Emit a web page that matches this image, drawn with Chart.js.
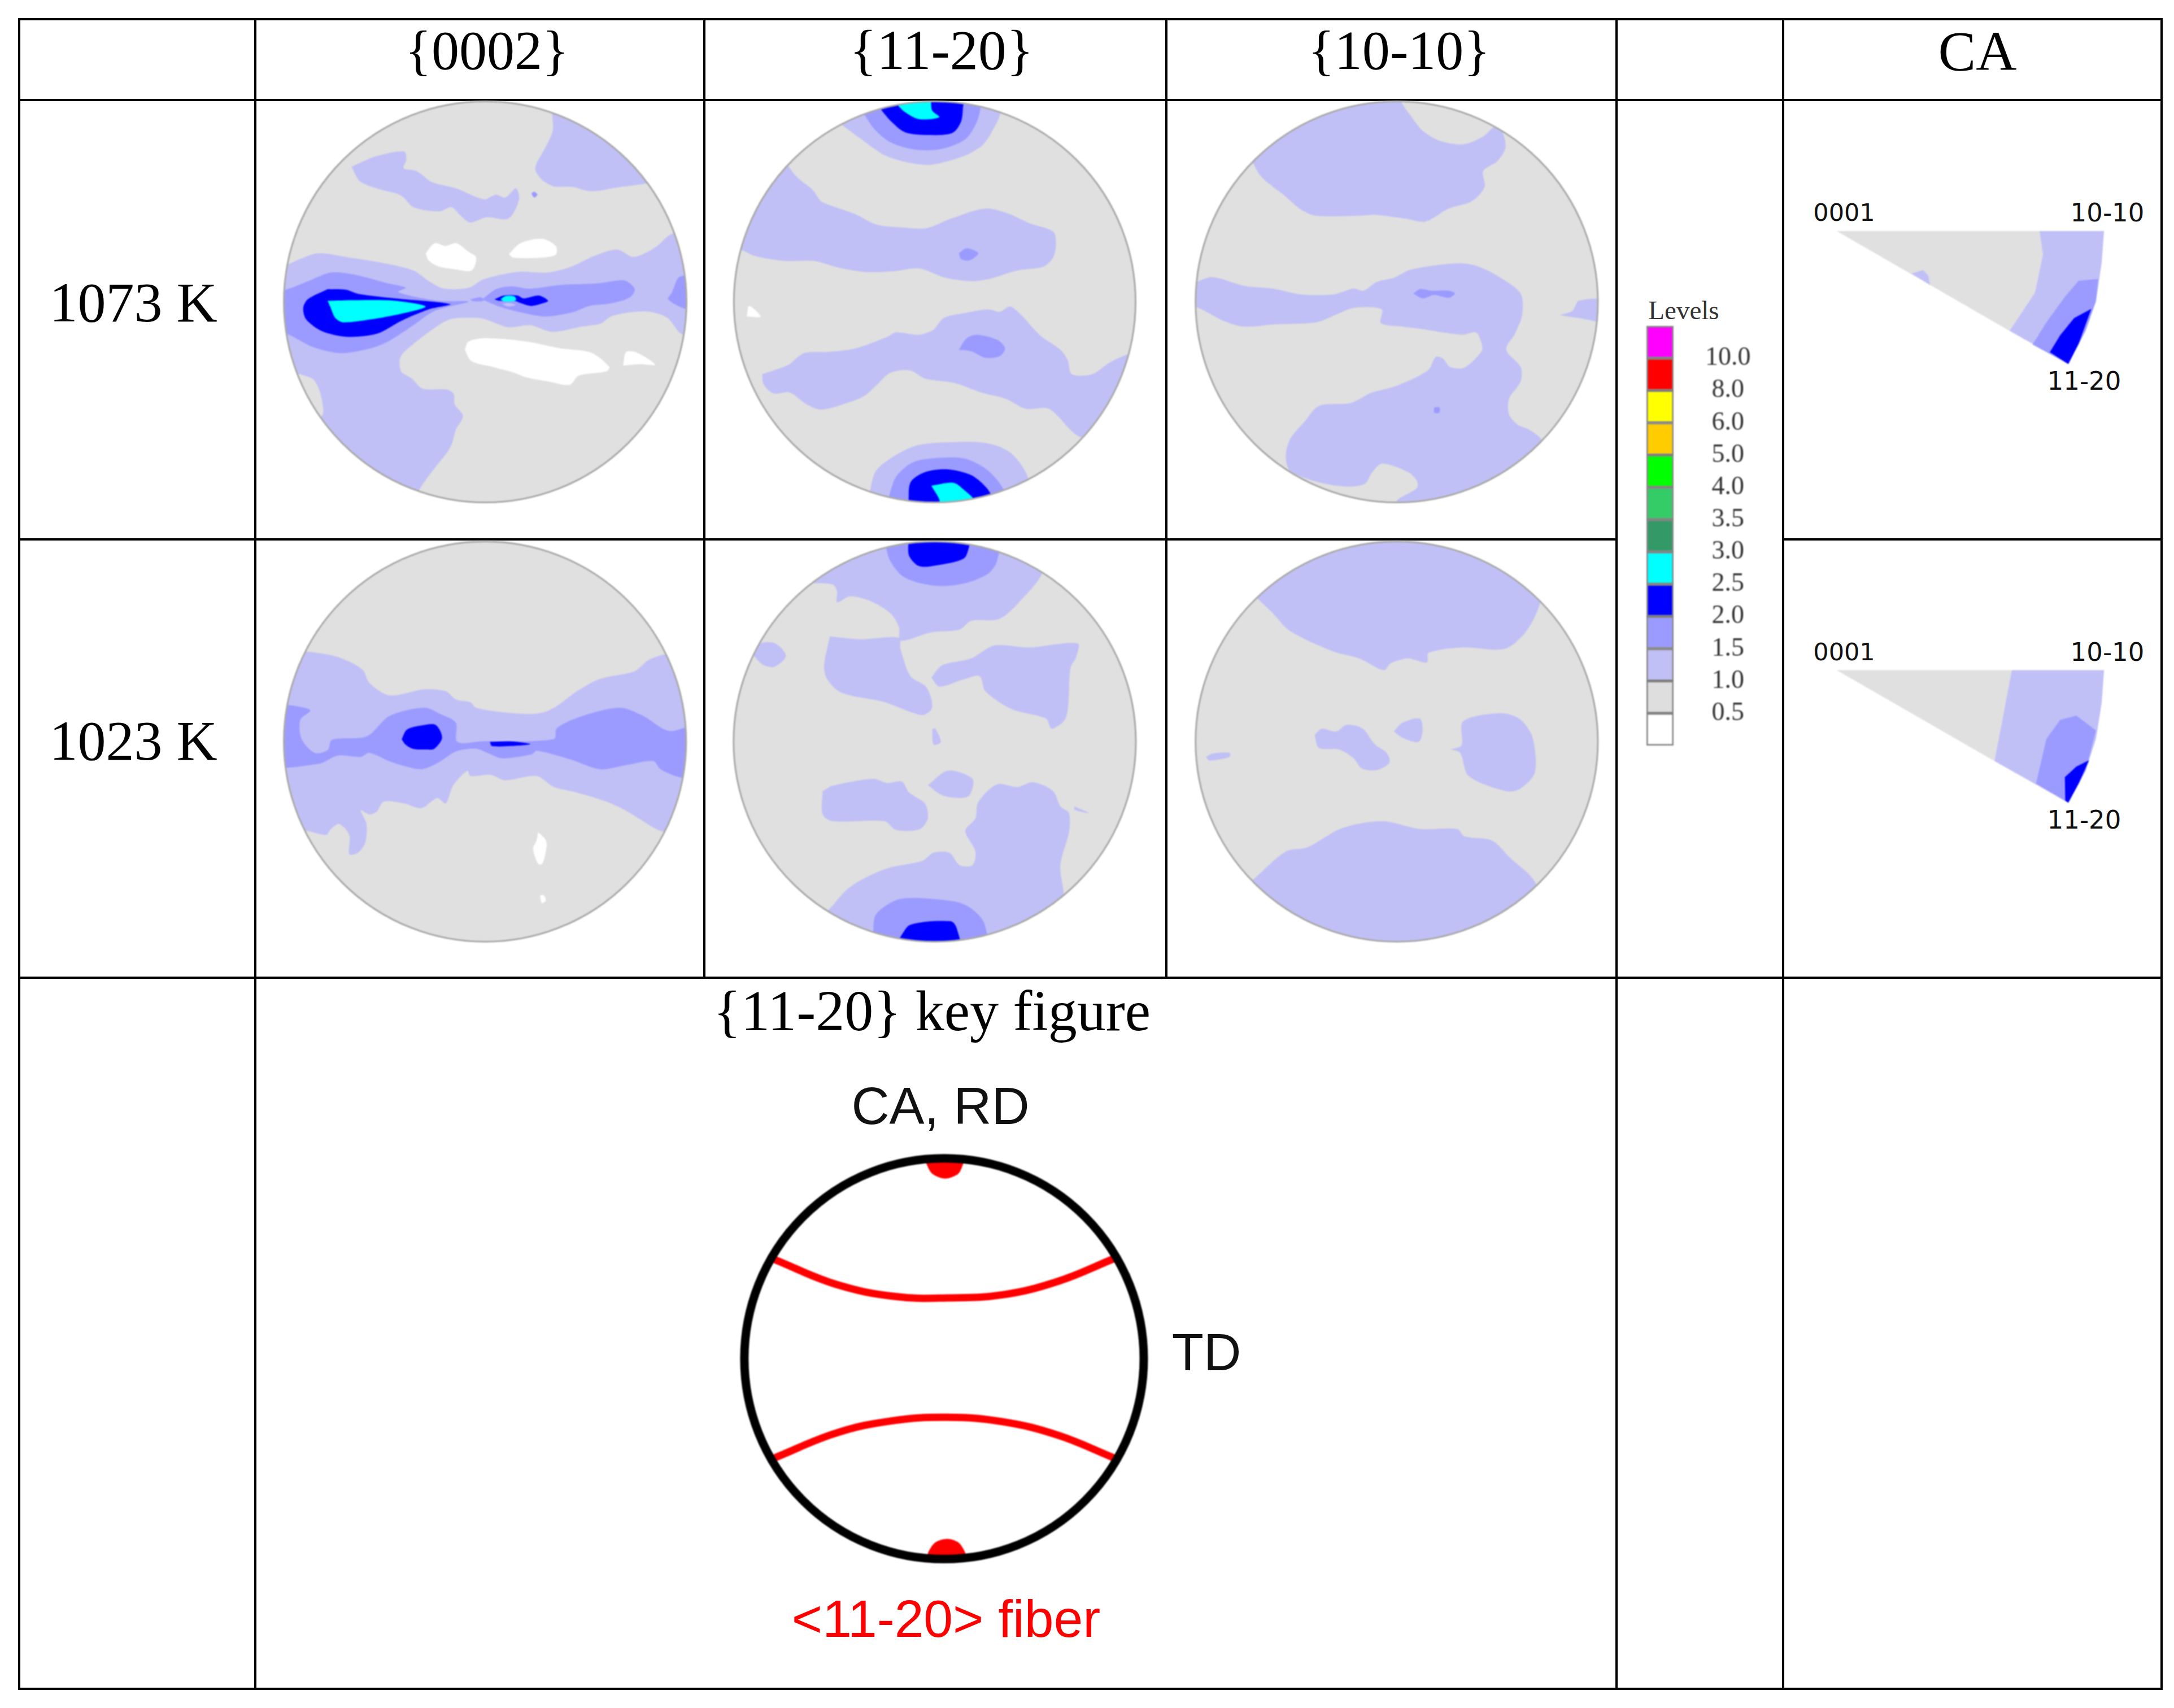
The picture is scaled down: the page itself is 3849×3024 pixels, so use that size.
<!DOCTYPE html>
<html><head><meta charset="utf-8">
<script src="https://cdn.jsdelivr.net/npm/chart.js@4/dist/chart.umd.min.js"></script>
<style>
html,body{margin:0;padding:0;background:#fff;width:3849px;height:3024px;overflow:hidden}
#grid{position:absolute;left:32px;top:32px;border-collapse:collapse;table-layout:fixed;width:3793px}
#grid td{border:4px solid #000;padding:0}
canvas{position:absolute}
.soft{filter:blur(1px)}
.t{position:absolute;white-space:nowrap;line-height:1;transform:translate(-50%,-50%)}
</style></head><body>
<table id="grid">
<colgroup><col style="width:418px"><col style="width:795px"><col style="width:818px"><col style="width:797px"><col style="width:295px"><col style="width:670px"></colgroup>
<tr style="height:143px"><td></td><td></td><td></td><td></td><td></td><td></td></tr>
<tr style="height:778px"><td></td><td></td><td></td><td></td><td rowspan="2"></td><td></td></tr>
<tr style="height:776px"><td></td><td></td><td></td><td></td><td></td></tr>
<tr style="height:1259px"><td></td><td colspan="3"></td><td></td><td></td></tr>
</table>
<script>
// ---- colours of the contour levels
const GRAY='#e0e0e0', LAV='#c0c0f6', MID='#9b9bff', BLUE='#0000ff', CYAN='#00ffff', WHITE='#ffffff';
const ALL=[[0,0],[1568,0],[1568,1568],[0,1568],[0,0]];

// ---- {0002} 1073 K contours
const a1_lavTR=[[972,60],[972,70],[975,140],[950,200],[918,268],[935,305],[975,332],[1040,335],[1100,350],[1180,338],[1285,322],[1350,300],[1300,100],[1000,20]];
const a1_lavUL=[[318,265],[400,228],[490,212],[497,240],[488,270],[530,280],[580,318],[660,340],[750,378],[790,362],[820,372],[855,340],[865,380],[830,445],[760,440],[705,458],[670,430],[645,405],[605,420],[520,405],[480,365],[400,340],[345,315]];
const a1_lavDot=[[905,358],[915,352],[925,362],[915,372]];
const a1_lavBand=[[50,605],[105,605],[150,585],[210,565],[300,578],[400,595],[520,625],[575,665],[620,688],[700,685],[750,655],[860,630],[960,632],[1040,610],[1110,575],[1185,552],[1240,578],[1310,545],[1365,498],[1450,500],[1450,850],[1395,845],[1350,790],[1290,768],[1230,770],[1165,785],[1130,810],[1070,820],[975,838],[900,815],[830,822],[770,800],[735,790],[650,792],[610,810],[520,880],[478,925],[480,975],[515,1000],[550,1035],[630,1038],[652,1055],[655,1090],[682,1130],[660,1175],[640,1240],[590,1310],[540,1385],[520,1440],[100,1440],[50,800]];
const a1_grayLL=[[150,985],[195,1005],[218,1060],[220,1130],[100,1130],[100,985]];
const a1_midL=[[60,700],[95,695],[170,665],[250,632],[330,640],[430,668],[495,685],[470,700],[600,730],[700,733],[590,765],[520,815],[440,870],[380,895],[280,912],[190,890],[105,845],[60,845]];
const a1_midR=[[745,725],[790,690],[840,680],[900,688],[1000,675],[1120,670],[1210,660],[1243,690],[1225,720],[1160,740],[1095,748],[1040,770],[950,785],[870,770],[800,750]];
const a1_midE=[[1412,640],[1385,650],[1365,700],[1352,725],[1412,760],[1450,760],[1450,640]];
const a1_midT=[[705,726],[740,718],[750,730],[715,732]];
const a1_blueL=[[240,690],[300,692],[340,706],[460,722],[640,742],[570,760],[480,800],[400,845],[300,855],[220,835],[170,795],[160,755],[175,725]];
const a1_blueR=[[785,725],[815,712],[860,712],[880,722],[930,712],[960,730],[945,738],[905,748],[870,738],[850,730],[800,730]];
const a1_cyanL=[[240,730],[330,728],[460,730],[560,750],[480,775],[380,795],[290,805],[265,790],[250,755]];
const a1_cyanR=[[805,725],[820,714],[850,715],[855,728],[820,733]];
const a1_lavIn=[[810,742],[830,737],[855,745],[830,750]];
const a1_whA=[[560,565],[590,530],[625,540],[660,530],[700,560],[725,580],[710,625],[650,620],[600,610],[570,590]];
const a1_whB=[[832,568],[870,530],[940,515],[985,540],[985,570],[940,580],[845,580]];
const a1_whC=[[688,900],[700,872],[750,860],[880,870],[1000,895],[1100,910],[1160,960],[1150,975],[1060,990],[1030,1022],[960,1010],[885,995],[850,980],[780,960],[710,940]];
const a1_whD=[[1205,955],[1215,908],[1250,910],[1310,952],[1260,950]];

// ---- {11-20} 1073 K contours
const b1_lavT=[[445,115],[520,170],[600,225],[680,250],[760,258],[870,230],[940,190],[980,130],[1003,75],[1003,10],[445,10]];
const b1_midT=[[530,85],[565,135],[620,180],[700,205],[790,205],[880,170],[920,110],[935,50],[935,10],[530,10]];
const b1_blueT=[[582,60],[620,105],[670,145],[750,155],[835,148],[865,110],[872,60],[872,10],[582,10]];
const b1_cyanT=[[640,45],[670,75],[720,100],[790,93],[765,70],[755,30],[640,30]];
const b1_lavU=[[265,262],[300,305],[350,345],[380,385],[430,405],[500,430],[570,465],[650,475],[745,478],[830,445],[950,410],[1030,428],[1100,460],[1185,490],[1195,530],[1185,580],[1150,612],[1060,625],[960,655],[900,662],[810,650],[720,618],[630,628],[530,630],[440,615],[355,592],[250,592],[150,575],[105,555],[60,555],[60,300],[200,200]];
const b1_midU=[[858,565],[885,548],[925,565],[895,590],[865,585]];
const b1_lavD=[[175,985],[235,965],[270,950],[320,912],[400,908],[500,895],[610,855],[640,840],[720,848],[770,830],[805,790],[880,772],[960,760],[1000,768],[1035,750],[1070,775],[1140,850],[1210,900],[1235,935],[1250,985],[1320,985],[1380,945],[1450,915],[1520,915],[1520,1200],[1285,1205],[1170,1105],[1090,1105],[1020,1070],[940,1050],[840,1015],[740,1000],[690,972],[620,980],[575,1020],[530,1060],[470,1085],[380,1108],[330,1090],[270,1048],[215,1052],[180,1020]];
const b1_midD=[[858,900],[885,860],[920,848],[990,865],[1018,895],[1000,922],[950,928],[900,905]];
const b1_lavB=[[548,1395],[570,1320],[640,1265],[720,1230],[850,1220],[960,1225],[1040,1260],[1098,1345],[1098,1450],[548,1450]];
const b1_midB=[[615,1410],[640,1340],[700,1290],[790,1275],[880,1278],[960,1320],[1015,1390],[1015,1450],[615,1450]];
const b1_blueB=[[683,1430],[690,1360],[740,1325],[820,1315],[900,1335],[950,1375],[972,1410],[972,1450],[683,1450]];
const b1_cyanB=[[762,1372],[840,1362],[880,1390],[910,1420],[910,1450],[792,1450],[790,1420]];
const b1_wh=[[122,785],[130,748],[170,785]];

// ---- {10-10} 1073 K contours
const c1_lavT=[[270,250],[300,300],[380,365],[440,415],[490,435],[640,435],[700,432],[800,445],[870,455],[950,410],[1030,385],[1075,335],[1070,280],[1120,245],[1148,195],[1130,130],[1110,125],[1070,160],[1000,187],[920,175],[860,140],[820,90],[785,38],[785,10],[400,10],[200,150]];
const c1_lavM=[[40,665],[72,665],[130,648],[240,678],[340,688],[440,708],[550,708],[620,688],[655,695],[700,665],[760,650],[820,622],[980,600],[1050,610],[1130,650],[1200,705],[1205,780],[1180,845],[1150,900],[1200,960],[1200,1010],[1160,1070],[1160,1125],[1190,1160],[1230,1178],[1272,1212],[1300,1300],[800,1450],[770,1425],[840,1380],[840,1355],[810,1325],[720,1295],[685,1325],[660,1365],[600,1375],[500,1360],[400,1320],[385,1270],[400,1210],[450,1150],[500,1095],[610,1085],[680,1050],[770,1025],[880,970],[905,925],[930,930],[955,960],[1005,962],[1065,905],[1065,880],[1045,840],[1000,848],[930,840],[870,830],[790,820],[715,808],[718,760],[620,755],[560,778],[490,805],[350,812],[240,820],[170,800],[75,752],[40,752]];
const c1_midA=[[828,705],[850,690],[890,695],[950,695],[972,705],[950,720],[900,710],[860,722]];
const c1_midB=[[900,1100],[918,1100],[918,1118],[900,1118]];
const c1_lavR=[[1335,780],[1380,765],[1402,730],[1500,730],[1500,800],[1400,790]];

// ---- {0002} 1023 K contours
const a2_lav=[[50,420],[175,420],[290,440],[375,485],[400,535],[470,580],[590,558],[665,565],[700,595],[750,605],[770,625],[850,640],[960,648],[1010,640],[1060,612],[1120,565],[1200,520],[1320,492],[1370,450],[1430,430],[1550,430],[1550,1075],[1420,1078],[1320,1020],[1270,990],[1200,960],[1100,930],[1040,915],[980,875],[870,890],[820,870],[750,875],[740,855],[690,910],[665,975],[635,955],[580,992],[520,975],[450,968],[425,1005],[400,1015],[370,1000],[390,1050],[385,1120],[360,1155],[330,1160],[330,1090],[295,1050],[265,1070],[250,1090],[180,1075],[50,1075]];
const a2_mid=[[50,615],[105,615],[150,620],[195,635],[160,670],[165,740],[210,790],[255,780],[270,742],[390,730],[470,655],[590,625],[650,650],[700,680],[705,750],[790,748],[1040,740],[1050,700],[1140,655],[1270,625],[1350,655],[1440,710],[1550,690],[1550,880],[1480,880],[1410,850],[1385,820],[1290,835],[1200,850],[1100,815],[980,782],[965,795],[860,810],[810,790],[770,775],[700,785],[640,825],[580,850],[480,825],[400,790],[370,805],[290,800],[225,830],[50,830]];
const a2_blue=[[512,740],[530,705],[580,690],[630,688],[652,735],[625,775],[595,778],[550,775],[525,760]];
const a2_slit=[[818,750],[890,748],[958,758],[890,765],[825,765]];
const a2_whA=[[985,1080],[1010,1105],[1015,1130],[1000,1195],[985,1195],[968,1140],[980,1110]];
const a2_whB=[[992,1310],[1005,1310],[1012,1330],[998,1338]];

// ---- {11-20} 1023 K contours
const b2_lavT=[[350,170],[420,175],[435,200],[435,240],[480,218],[550,235],[620,280],[650,330],[655,380],[760,350],[860,340],[900,308],[1000,300],[1080,225],[1148,130],[1148,10],[350,10]];
const b2_lavA=[[410,365],[520,375],[650,370],[655,410],[690,510],[745,550],[765,625],[730,652],[600,605],[450,570],[400,520],[390,470]];
const b2_lavB=[[762,515],[800,470],[900,445],[980,398],[1100,405],[1270,390],[1265,440],[1245,480],[1230,660],[1180,702],[1160,665],[1040,630],[950,565],[930,510],[880,520],[790,548]];
const b2_lavC=[[145,435],[170,390],[220,390],[258,435],[220,475],[180,470]];
const b2_lavD=[[765,705],[775,700],[795,750],[770,760]];
const b2_lavE=[[385,930],[420,910],[560,885],[610,900],[660,895],[685,935],[740,975],[750,1030],[720,1070],[640,1072],[600,1040],[420,1040],[385,1015]];
const b2_lavF=[[750,908],[820,855],[905,885],[895,945],[860,955],[800,945]];
const b2_lavG=[[405,1365],[480,1280],[600,1215],[730,1185],[770,1155],[825,1155],[860,1200],[905,1200],[915,1150],[880,1075],[915,1030],[925,970],[990,905],[1060,915],[1115,897],[1185,930],[1210,985],[1240,1010],[1240,1080],[1210,1200],[1222,1310],[1222,1520],[405,1520]];
const b2_lavH=[[1258,985],[1310,1010],[1260,998]];
const b2_midT=[[600,20],[620,90],[670,150],[780,180],[880,170],[960,135],[990,90],[990,10],[600,10]];
const b2_blueT=[[683,10],[685,70],[720,108],[780,105],[875,80],[895,30],[895,10]];
const b2_midB=[[560,1450],[570,1380],[650,1325],[780,1325],[880,1345],[945,1410],[945,1520],[560,1520]];
const b2_blueB=[[650,1470],[690,1418],[830,1405],[850,1430],[860,1520],[650,1520]];

// ---- {10-10} 1023 K contours
const c2_lavT=[[285,225],[340,280],[400,345],[550,420],[640,445],[725,488],[750,462],[810,445],[875,460],[880,425],[1000,405],[1145,410],[1220,345],[1268,240],[1300,10],[200,10]];
const c2_lavB=[[270,1255],[385,1150],[460,1135],[580,1065],[720,1040],[850,1068],[980,1068],[1005,1095],[1100,1110],[1160,1170],[1255,1275],[1255,1520],[270,1520]];
const c2_lavA=[[485,725],[510,702],[560,712],[595,688],[650,700],[695,760],[735,790],[745,825],[705,852],[650,848],[620,810],[570,778],[500,772]];
const c2_lavC=[[760,712],[790,680],[850,665],[860,710],[845,750],[790,735]];
const c2_lavD=[[958,778],[995,762],[1000,675],[1125,645],[1195,665],[1240,730],[1250,860],[1200,920],[1150,930],[1020,875],[990,790]];
const c2_lavE=[[108,805],[130,793],[190,790],[190,805],[120,818]];

// ---- CA inverse pole figures
const ipf1_gray=[[200,105],[1080,105],[1095,160],[1060,250],[950,340]];
const ipf1_lav=[[1080,105],[1360,105],[1350,180],[1325,270],[1280,340],[1205,418],[950,340],[1060,250],[1095,160]];
const ipf1_mid=[[1335,218],[1250,222],[1190,260],[1110,320],[1050,372],[1205,418],[1280,340],[1325,270]];
const ipf1_blue=[[1305,288],[1230,310],[1170,350],[1125,390],[1205,418],[1250,370]];
const ipf1_spot=[[525,205],[575,197],[598,210],[605,232]];
const ipf2_gray=[[200,1138],[960,1138],[885,1352]];
const ipf2_lav=[[960,1138],[1360,1138],[1350,1215],[1325,1300],[1280,1375],[1205,1450],[885,1352]];
const ipf2_mid=[[1325,1280],[1240,1245],[1170,1255],[1110,1300],[1065,1405],[1205,1450],[1280,1375]];
const ipf2_blue=[[1295,1350],[1240,1365],[1190,1390],[1192,1445],[1205,1450],[1250,1405]];

// ---- colour key
const levelLabels=['0.5','1.0','1.5','2.0','2.5','3.0','3.5','4.0','5.0','6.0','8.0','10.0'];
const levelColors=['#ffffff','#dedede','#c0c0f6','#9b9bff','#0000ff','#00ffff','#339966','#33cc66','#00ff00','#ffcc00','#ffff00','#ff0000','#ff00ff'];
const levelSpan=[1,1,1,1,1,1,1,1,1,1,1,1,1];

// ---- {11-20} key figure
const key_arcTop=[[245,640],[400,695],[550,722],[680,725],[820,718],[960,688],[1100,638]];
const key_arcBot=[[245,1080],[400,1025],[540,998],[680,990],[820,1000],[960,1030],[1100,1080]];
const key_capTop=[[625,416],[628,428],[642,449],[675,460],[708,449],[720,428],[723,416]];
const key_capBot=[[630,1306],[632,1290],[650,1268],[680,1260],[708,1268],[725,1290],[727,1306]];

// ---- texts
const SERIF='"Liberation Serif"', SANS='"Liberation Sans"', DEJA='"DejaVu Sans"';
const texts=[
 ['{0002}',862,89,SERIF,98,'#000'],['{11-20}',1667,89,SERIF,100,'#000'],['{10-10}',2477,89,SERIF,98,'#000'],['CA',3501,91,SERIF,100,'#000'],
 ['1073 K',236,536,SERIF,100,'#000'],['1023 K',236,1312,SERIF,100,'#000'],
 ['{11-20} key figure',1650,1790,SERIF,102,'#000'],
 ['CA, RD',1665,1958,SANS,93,'#111'],['TD',2136,2394,SANS,92,'#111'],['<11-20> fiber',1675,2866,SANS,93,'#ff0000'],
 ['0001',3265,376,DEJA,43,'#111'],['10-10',3731,376,DEJA,45,'#111'],['11-20',3690,674,DEJA,45,'#111'],
 ['0001',3265,1154,DEJA,43,'#111'],['10-10',3731,1154,DEJA,45,'#111'],['11-20',3690,1451,DEJA,45,'#111'],
 ['Levels',2981,549,SERIF,47,'#333']
];
texts.forEach(([s,x,y,f,z,c])=>{const d=document.createElement('div');d.className='t';d.textContent=s;
 d.style.cssText=`left:${x}px;top:${y}px;font-family:${f};font-size:${z}px;color:${c}`;document.body.appendChild(d);});

// clip the contours to the disc and stroke its rim, in scale units
const discPlugin={id:'disc',
 beforeDatasetsDraw(ch,a,o){if(!o.c)return;const ctx=ch.ctx;ctx.save();
  if(o.clip){ctx.beginPath();ell(ch,o);ctx.clip();}},
 afterDatasetsDraw(ch,a,o){if(!o.c)return;const ctx=ch.ctx;ctx.restore();
  ctx.save();ctx.beginPath();ell(ch,o);ctx.lineWidth=o.lw;ctx.strokeStyle=o.color;ctx.stroke();ctx.restore();}};
function ell(ch,o){const sx=ch.scales.x,sy=ch.scales.y;
 ch.ctx.ellipse(sx.getPixelForValue(o.c[0]),sy.getPixelForValue(o.c[1]),
  Math.abs(sx.getPixelForValue(o.c[0]+o.r[0])-sx.getPixelForValue(o.c[0])),
  Math.abs(sy.getPixelForValue(o.c[1]+o.r[1])-sy.getPixelForValue(o.c[1])),0,0,Math.PI*2);}

function canvasAt(x,y,w,h,soft){const c=document.createElement('canvas');c.width=w;c.height=h;
 c.style.cssText=`left:${x}px;top:${y}px;width:${w}px;height:${h}px`;if(soft)c.className='soft';document.body.appendChild(c);return c;}

function panel(rect,layers,disc,tension){
 // Chart.js paints the first dataset last, so the layer list is reversed
 const datasets=layers.map(([color,pts,opt])=>{
  const closed=opt&&opt.open?pts:pts.concat([pts[0]]);
  return Object.assign({data:closed.map(p=>({x:p[0],y:p[1]})),showLine:true,fill:'shape',backgroundColor:color,borderWidth:0,borderColor:color,pointRadius:0,tension:tension},
   opt&&opt.open?{fill:false,borderColor:color,borderWidth:opt.lw,tension:0.4,borderCapStyle:'butt'}:{});
 }).reverse();
 new Chart(canvasAt(rect[0],rect[1],rect[2],rect[3],true),{type:'scatter',data:{datasets},plugins:[discPlugin],options:{
  responsive:false,animation:false,devicePixelRatio:1,events:[],layout:{padding:0},
  plugins:{legend:{display:false},tooltip:{enabled:false},disc:disc},
  scales:{x:{type:'linear',display:false,min:0,max:1568},y:{type:'linear',display:false,reverse:true,min:0,max:1568}}}});
}
const RIM='#a9a9a9';
panel([450,160,850,800],[[GRAY,ALL],[LAV,a1_lavTR],[LAV,a1_lavUL],[MID,a1_lavDot],[LAV,a1_lavBand],[GRAY,a1_grayLL],[MID,a1_midL],[MID,a1_midR],[MID,a1_midE],[MID,a1_midT],[BLUE,a1_blueL],[BLUE,a1_blueR],[CYAN,a1_cyanL],[CYAN,a1_cyanR],[LAV,a1_lavIn],[WHITE,a1_whA],[WHITE,a1_whB],[WHITE,a1_whC],[WHITE,a1_whD]],
 {c:[754.5,734],r:[657.5,696],clip:true,lw:3,color:RIM},0.3);
panel([1260,160,800,800],[[GRAY,ALL],[LAV,b1_lavT],[MID,b1_midT],[BLUE,b1_blueT],[CYAN,b1_cyanT],[LAV,b1_lavU],[MID,b1_midU],[LAV,b1_lavD],[MID,b1_midD],[LAV,b1_lavB],[MID,b1_midB],[BLUE,b1_blueB],[CYAN,b1_cyanB],[WHITE,b1_wh]],
 {c:[774,734],r:[697,696],clip:true,lw:3,color:RIM},0.3);
panel([2080,160,800,800],[[GRAY,ALL],[LAV,c1_lavT],[LAV,c1_lavM],[MID,c1_midA],[MID,c1_midB],[LAV,c1_lavR]],
 {c:[770,734],r:[698,696],clip:true,lw:3,color:RIM},0.3);
panel([450,950,800,760],[[GRAY,ALL],[LAV,a2_lav],[MID,a2_mid],[BLUE,a2_blue],[BLUE,a2_slit],[WHITE,a2_whA],[WHITE,a2_whB]],
 {c:[801,749],r:[698,731],clip:true,lw:3,color:RIM},0.3);
panel([1260,950,800,760],[[GRAY,ALL],[LAV,b2_lavT],[LAV,b2_lavA],[LAV,b2_lavB],[LAV,b2_lavC],[LAV,b2_lavD],[LAV,b2_lavE],[LAV,b2_lavF],[LAV,b2_lavG],[LAV,b2_lavH],[MID,b2_midT],[BLUE,b2_blueT],[MID,b2_midB],[BLUE,b2_blueB]],
 {c:[774,749],r:[698,731],clip:true,lw:3,color:RIM},0.3);
panel([2080,950,800,760],[[GRAY,ALL],[LAV,c2_lavT],[LAV,c2_lavB],[LAV,c2_lavA],[LAV,c2_lavC],[LAV,c2_lavD],[LAV,c2_lavE]],
 {c:[770,749],r:[698,731],clip:true,lw:3,color:RIM},0.3);
panel([3170,330,640,1180],[[GRAY,ipf1_gray],[LAV,ipf1_lav],[LAV,ipf1_spot],[MID,ipf1_mid],[BLUE,ipf1_blue],[GRAY,ipf2_gray],[LAV,ipf2_lav],[MID,ipf2_mid],[BLUE,ipf2_blue]],{},0);
panel([1200,1720,1100,1250],[[ '#ff0000',key_capTop],['#ff0000',key_capBot],['#ff0000',key_arcTop,{open:true,lw:13}],['#ff0000',key_arcBot,{open:true,lw:13}]],
 {c:[672,860],r:[504,445],clip:false,lw:15,color:'#000'},0.3);

// colour key: a stacked bar with the level labels on its axis
new Chart(canvasAt(2900,567,230,763,true),{type:'bar',
 data:{labels:['levels'],datasets:levelColors.map((c,i)=>({data:[levelSpan[i]],backgroundColor:c,borderColor:'rgba(40,40,40,0.55)',borderWidth:3,borderSkipped:false,barPercentage:1,categoryPercentage:1}))},
 options:{responsive:false,animation:false,devicePixelRatio:1,events:[],layout:{padding:{left:15,top:10,bottom:10,right:0}},
  plugins:{legend:{display:false},tooltip:{enabled:false}},
  scales:{x:{stacked:true,display:false},
   y:{stacked:true,position:'right',min:0,max:13,border:{display:false},grid:{display:false,drawTicks:false},
      afterFit(s){s.width=167;s.paddingTop=0;s.paddingBottom=0;},
      ticks:{stepSize:1,autoSkip:false,crossAlign:'center',padding:56,color:'#333',font:{family:'"Liberation Serif"',size:46},
       callback:v=>levelLabels[v-1]||''}}}}});
</script>
</body></html>
